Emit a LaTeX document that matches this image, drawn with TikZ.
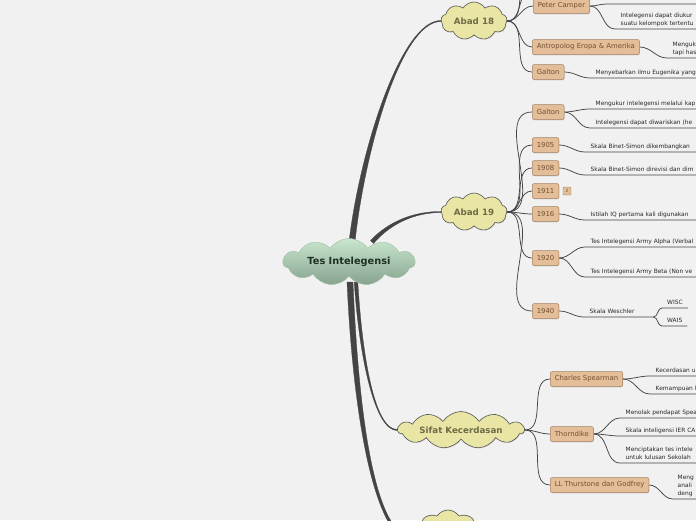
\documentclass[tikz,border=0pt]{standalone}
\usepackage{fontspec}
\setmainfont{DejaVu Sans}
\usetikzlibrary{shapes.symbols,shadows,calc}
\definecolor{bgc}{RGB}{241,241,241}
\definecolor{tanf}{RGB}{227,190,153}
\definecolor{tanb}{RGB}{165,130,100}
\definecolor{tant}{RGB}{115,80,50}
\definecolor{cloudf}{RGB}{233,229,165}
\definecolor{cloudb}{RGB}{85,85,85}
\definecolor{cloudt}{RGB}{110,108,70}
\definecolor{gtop}{RGB}{200,230,206}
\definecolor{gbot}{RGB}{135,163,142}
\definecolor{roott}{RGB}{30,48,34}
\definecolor{linec}{RGB}{68,68,68}
\definecolor{leaft}{RGB}{40,40,40}
\pgfdeclarelayer{back}
\pgfdeclarelayer{links}
\pgfsetlayers{back,links,main}
\tikzset{
  topic/.style={cloud, cloud puffs=9, cloud puff arc=115, cloud ignores aspect,
    draw=cloudb, line width=0.6pt, fill=cloudf, text=cloudt, inner sep=0pt,
    font=\fontsize{8.7}{10}\selectfont\bfseries,
    drop shadow={opacity=0.25, shadow xshift=0.6pt, shadow yshift=-0.8pt}},
  rootc/.style={cloud, cloud puffs=11, cloud puff arc=110, cloud ignores aspect,
    minimum width=132pt, minimum height=47pt, top color=gtop, bottom color=gbot,
    draw=gbot!60!gtop, line width=0.4pt, text=roott, inner sep=0pt,
    font=\fontsize{9.8}{11}\selectfont\bfseries},
  box/.style={anchor=west, draw=tanb, fill=tanf, rounded corners=2pt, text=tant,
    font=\fontsize{6.9}{8}\selectfont, inner xsep=4.5pt, inner ysep=0pt,
    minimum height=15pt, line width=0.5pt,
    drop shadow={opacity=0.3, shadow xshift=0.5pt, shadow yshift=-0.8pt}},
  badge/.style={draw=tanb, fill=tanf, rounded corners=1pt, text=tant,
    font=\fontsize{4.5}{5}\selectfont, inner sep=0.5pt, minimum size=8pt, line width=0.4pt},
  leaf/.style={anchor=south west, font=\fontsize{5.9}{8}\selectfont, text=leaft,
    inner xsep=5.5pt, inner ysep=3.5pt, text depth=0pt, align=left},
  link/.style={draw=linec, line width=0.75pt},
  thick link/.style={fill=linec, draw=linec, line width=0.3pt}
}
\begin{document}
\begin{tikzpicture}[x=1pt,y=-1pt]
\begin{pgfonlayer}{back}
\fill[bgc] (0,0) rectangle (696,520);
\end{pgfonlayer}
\useasboundingbox (0,0) rectangle (696,520);
\clip (0,0) rectangle (696,520);

% central and topics
\node[rootc] (root) at (349,262) {Tes Intelegensi};
\node[topic, minimum width=66pt, minimum height=38pt] (a18) at (474,21) {Abad 18};
\node[topic, minimum width=66pt, minimum height=38pt] (a19) at (474,212) {Abad 19};
\node[topic, cloud puffs=11, minimum width=126pt, minimum height=37pt] (sk) at (461,430) {Sifat Kecerdasan};
\node[topic, minimum width=70pt, minimum height=60pt] (b4) at (448,540) {};

% boxes
\node[box] (pc) at (533,6) {Peter Camper};
\node[box] (ant) at (532,47) {Antropolog Eropa \& Amerika};
\node[box] (g18) at (532,72) {Galton};
\node[box] (g19) at (532,112) {Galton};
\node[box] (y05) at (532,145) {1905};
\node[box] (y08) at (532,168) {1908};
\node[box] (y11) at (532,191) {1911};
\node[badge] (bd) at (567,191) {2};
\node[box] (y16) at (532,214) {1916};
\node[box] (y20) at (532,258) {1920};
\node[box] (y40) at (532,311) {1940};
\node[box] (cs) at (550,379) {Charles Spearman};
\node[box] (th) at (550,434) {Thorndike};
\node[box] (ll) at (550,485) {LL Thurstone dan Godfrey};

% free ends
\coordinate (h1) at (533,-12);
\coordinate (h2) at (533,-34);
\coordinate (pcu) at (607,4);
\coordinate (E) at (700,0);

% leaves
\node[leaf] (pc2) at (615,29) {Intelegensi dapat diukur\\suatu kelompok tertentu};
\node[leaf] (ant1) at (667,58) {Menguk\\tapi has};
\node[leaf] (g18c) at (590,78) {Menyebarkan ilmu Eugenika yang};
\node[leaf] (g19c1) at (590,109) {Mengukur intelegensi melalui kap};
\node[leaf] (g19c2) at (590,128) {Intelegensi dapat diwariskan (he};
\node[leaf] (y05c) at (585,152) {Skala Binet-Simon dikembangkan};
\node[leaf] (y08c) at (585,175) {Skala Binet-Simon direvisi dan dim};
\node[leaf] (y16c) at (585,220) {Istilah IQ pertama kali digunakan};
\node[leaf] (y20c1) at (585,247) {Tes Intelegensi Army Alpha (Verbal};
\node[leaf] (y20c2) at (585,277) {Tes Intelegensi Army Beta (Non ve};
\node[leaf, text width=58pt] (y40c) at (584,317) {Skala Weschler};
\node[leaf, inner xsep=5pt] (wisc) at (662,308) {WISC};
\node[leaf, inner xsep=5pt] (wais) at (662,326) {WAIS};
\node[leaf] (cs1) at (650,376) {Kecerdasan u};
\node[leaf] (cs2) at (650,394) {Kemampuan l};
\node[leaf] (th1) at (620,418) {Menolak pendapat Spea};
\node[leaf] (th2) at (620,436) {Skala inteligensi IER CA};
\node[leaf] (th3) at (620,463) {Menciptakan tes intele\\untuk lulusan Sekolah};
\node[leaf, inner xsep=4.5pt] (ll1) at (673,499) {Meng\\anali\\deng};

% root exit points
\coordinate (s18) at ($(root.center)+(3,-20)$);
\coordinate (s19) at ($(root.center)+(23,-20)$);
\coordinate (ssk) at ($(root.center)+(7,20)$);
\coordinate (sb4) at ($(root.center)+(1,20)$);

\begin{pgfonlayer}{links}
\clip (0,0) rectangle (696,520);
% tapered main branches
\filldraw[thick link] ($(s18)+(-3,0)$) .. controls ($(s18)+(7.5,-90)$) and ($(a18.west)+(-40,-0.7)$) .. ($(a18.west)+(0,-0.5)$)
  -- ($(a18.west)+(0,0.5)$) .. controls ($(a18.west)+(-40,0.7)$) and ($(s18)+(12.5,-90)$) .. ($(s18)+(3,0)$) -- cycle;
\filldraw[thick link] ($(s19)+(-1.5,-1.4)$) .. controls ($(s19)+(16.8,-21.1)$) and ($(a19.west)+(-26,-0.7)$) .. ($(a19.west)+(0,-0.5)$)
  -- ($(a19.west)+(0,0.5)$) .. controls ($(a19.west)+(-26,0.7)$) and ($(s19)+(19.2,-18.9)$) .. ($(s19)+(1.5,1.4)$) -- cycle;
\filldraw[thick link] ($(ssk)+(-1.8,0)$) .. controls ($(ssk)+(3.5,78)$) and ($(sk.west)+(-22,0.7)$) .. ($(sk.west)+(0,0.5)$)
  -- ($(sk.west)+(0,-0.5)$) .. controls ($(sk.west)+(-22,-0.7)$) and ($(ssk)+(6.5,78)$) .. ($(ssk)+(1.8,0)$) -- cycle;
\filldraw[thick link] ($(sb4)+(-3,0)$) .. controls ($(sb4)+(3.2,138)$) and ($(b4.west)+(-38,2.5)$) .. ($(b4.west)+(0,2.2)$)
  -- ($(b4.west)+(0,-2.2)$) .. controls ($(b4.west)+(-38,-2.5)$) and ($(sb4)+(8.8,138)$) .. ($(sb4)+(3,0)$) -- cycle;

% topic to box
\draw[link] (a18.east) to[out=0,in=180] (h1);
\draw[link] (a18.east) to[out=0,in=180] (h2);
\foreach \t in {pc,ant,g18} \draw[link] (a18.east) to[out=0,in=180] (\t.west);
\foreach \t in {g19,y05,y08,y11,y16,y20,y40} \draw[link] (a19.east) to[out=0,in=180] (\t.west);
\foreach \t in {cs,th,ll} \draw[link] (sk.east) to[out=0,in=180] (\t.west);

% box to leaf
\draw[link] (pc.east) to[out=0,in=180] (pcu) -- (pcu -| E);
\foreach \b/\l in {pc/pc2, ant/ant1, g18/g18c, g19/g19c1, g19/g19c2, y05/y05c, y08/y08c,
  y16/y16c, y20/y20c1, y20/y20c2, cs/cs1, cs/cs2, th/th1, th/th2, th/th3, ll/ll1}
  \draw[link] (\b.east) to[out=0,in=180] (\l.south west) -- (\l.south west -| E);
\draw[link] (y40.east) to[out=0,in=180] (y40c.south west) -- (y40c.south east);
\draw[link] (y40c.south east) to[out=0,in=180] (wisc.south west) -- (wisc.south east);
\draw[link] (y40c.south east) to[out=0,in=180] (wais.south west) -- (wais.south east);
\end{pgfonlayer}
\end{tikzpicture}
\end{document}
